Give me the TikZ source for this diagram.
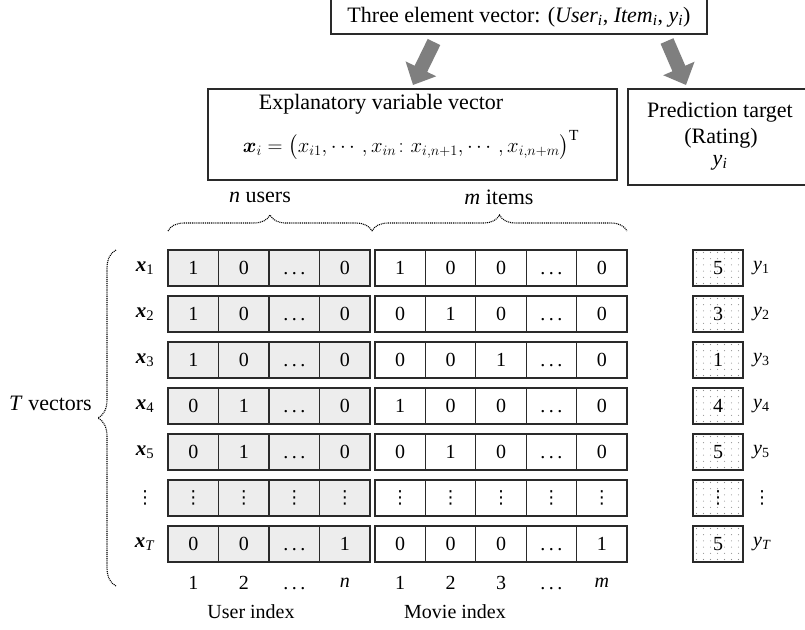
\documentclass[tikz,border=0pt]{standalone}
\usepackage{amsmath}
\usepackage{fontspec}
\setmainfont{Liberation Serif}
\newfontfamily\dvfont{DejaVu Sans}
\usetikzlibrary{decorations.pathreplacing,arrows.meta}
\definecolor{cellfill}{HTML}{EDEDED}
\definecolor{arrowgray}{HTML}{7F7F7F}
\definecolor{linecol}{HTML}{2A2A2A}
\begin{document}
\begin{tikzpicture}[x=1pt,y=-1pt,
  boxline/.style={draw=linecol,line width=1.2pt},
  ucell/.style={boxline,fill=cellfill,minimum width=50.5pt,minimum height=36pt,inner sep=0pt,font=\fontsize{20}{22}\selectfont},
  mcell/.style={boxline,fill=white,minimum width=50.4pt,minimum height=36pt,inner sep=0pt,font=\fontsize{20}{22}\selectfont},
  ycell/.style={boxline,minimum width=50pt,minimum height=36pt,inner sep=0pt,font=\fontsize{20}{22}\selectfont},
  lab/.style={inner sep=0pt,font=\fontsize{20}{22}\selectfont},
  head/.style={inner sep=0pt,font=\fontsize{22}{25}\selectfont},
  framebox/.style={boxline,inner sep=0pt},
  bigarrow/.style={draw=arrowgray,line width=14pt,-{Triangle[width=33pt,length=18pt]}},
  dotbrace/.style={draw=black,line width=1.1pt,dash pattern=on 1pt off 0.9pt,decorate},
  pdot/.style={fill=black!45}
]
\useasboundingbox (0,0) rectangle (805,629);

% top box
\node[framebox,minimum width=376pt,minimum height=37pt] (top) at (519,15.5) {};
\node[head] (toptxt) at (519,17) {Three element vector: (\textit{User}\textsubscript{\textit{i}}, \textit{Item}\textsubscript{\textit{i}}, \textit{y}\textsubscript{\textit{i}})};

% explanatory box
\node[framebox,minimum width=409pt,minimum height=91pt] (expl) at (412.5,134.5) {};
\node[head] (expl1) at (381,104) {Explanatory variable vector};
\node[inner sep=0pt,font=\fontsize{22}{24}\selectfont] (expl2) at (411,145) {$\boldsymbol{x}_i=\bigl(x_{i1},\cdots,x_{in}\colon x_{i,n+1},\cdots,x_{i,n+m}\bigr)^{\mathrm{T}}$};

% prediction box
\node[framebox,minimum width=178pt,minimum height=96pt] (pred) at (717,137) {};
\node[head] (pred1) at (720,112) {Prediction target};
\node[head] (pred2) at (721,138) {(Rating)};
\node[head] (pred3) at (720,163) {\textit{y}\textsubscript{\textit{i}}};

% arrows
\coordinate (a1s) at (434,42);
\coordinate (a1e) at (413,85);
\coordinate (a2s) at (667,41);
\coordinate (a2e) at (686,85);
\draw[bigarrow] (a1s) -- (a1e);
\draw[bigarrow] (a2s) -- (a2e);

% headings above braces
\node[head] (nusers) at (260,197) {\textit{n} users};
\node[head] (mitems) at (499,197) {\textit{m} items};

% braces
\coordinate (b1a) at (168,231);
\coordinate (b1b) at (372,231);
\coordinate (b2a) at (372,231);
\coordinate (b2b) at (627,231);
\draw[dotbrace,decoration={brace,amplitude=16pt}] (b1a) -- (b1b);
\draw[dotbrace,decoration={brace,amplitude=16pt}] (b2a) -- (b2b);
\coordinate (b3a) at (116,586);
\coordinate (b3b) at (116,250);
\draw[dotbrace,decoration={brace,amplitude=18pt}] (b3a) -- (b3b);
\node[head,anchor=east] (tvec) at (92,403) {\textit{T} vectors};

% rows
\def\D{\vphantom{0}.\kern3.5pt.\kern3.5pt.}
\def\V{{\dvfont\fontsize{18}{20}\selectfont ⋮}}
\foreach \r/\yy/\lab/\ylab/\yv/\ua/\ub/\uc/\ud/\ma/\mb/\mc/\md/\me in {
  1/268/{{\bfseries\itshape x}\textsubscript{1}}/{\textit{y}\textsubscript{1}}/5/1/0/\D/0/1/0/0/\D/0,
  2/314/{{\bfseries\itshape x}\textsubscript{2}}/{\textit{y}\textsubscript{2}}/3/1/0/\D/0/0/1/0/\D/0,
  3/360/{{\bfseries\itshape x}\textsubscript{3}}/{\textit{y}\textsubscript{3}}/1/1/0/\D/0/0/0/1/\D/0,
  4/406/{{\bfseries\itshape x}\textsubscript{4}}/{\textit{y}\textsubscript{4}}/4/0/1/\D/0/1/0/0/\D/0,
  5/452/{{\bfseries\itshape x}\textsubscript{5}}/{\textit{y}\textsubscript{5}}/5/0/1/\D/0/0/1/0/\D/0,
  6/498/{\V}/{\V}/{\V}/\V/\V/\V/\V/\V/\V/\V/\V/\V,
  7/544/{{\bfseries\itshape x}\textsubscript{\textit{T}}}/{\textit{y}\textsubscript{\textit{T}}}/5/0/0/\D/1/0/0/0/\D/1}{
  \node[lab,font=\fontsize{21}{23}\selectfont] (xl-\r) at (145,\yy) {\lab};
  \node[ucell] (u-\r-1) at (193.25,\yy) {\ua};
  \node[ucell] (u-\r-2) at (243.75,\yy) {\ub};
  \node[ucell] (u-\r-3) at (294.25,\yy) {\uc};
  \node[ucell] (u-\r-4) at (344.75,\yy) {\ud};
  \node[mcell] (m-\r-1) at (400.2,\yy) {\ma};
  \node[mcell] (m-\r-2) at (450.6,\yy) {\mb};
  \node[mcell] (m-\r-3) at (501,\yy) {\mc};
  \node[mcell] (m-\r-4) at (551.4,\yy) {\md};
  \node[mcell] (m-\r-5) at (601.8,\yy) {\me};
  \node[ycell] (yb-\r) at (718,\yy) {};
  \foreach \i in {0,...,6}{
    \foreach \j in {0,...,5}{
      \fill[pdot] (696.5+7*\i,\yy-15.5+6.2*\j) circle (0.55pt);
    }
  }
  \node[ycell,draw=none] (yv-\r) at (718,\yy) {\yv};
  \node[lab,anchor=west] (yl-\r) at (753,\yy) {\ylab};
}

% column indices
\foreach \c/\xx/\t in {1/193.25/1,2/243.75/2,3/294.25/\D,4/344.75/\textit{n},
                       5/400.2/1,6/450.6/2,7/501/3,8/551.4/\D,9/601.8/\textit{m}}{
  \node[lab] (ci-\c) at (\xx,583) {\t};
}
\node[lab] (uidx) at (251,612) {User index};
\node[lab] (midx) at (455,612) {Movie index};
\end{tikzpicture}
\end{document}
